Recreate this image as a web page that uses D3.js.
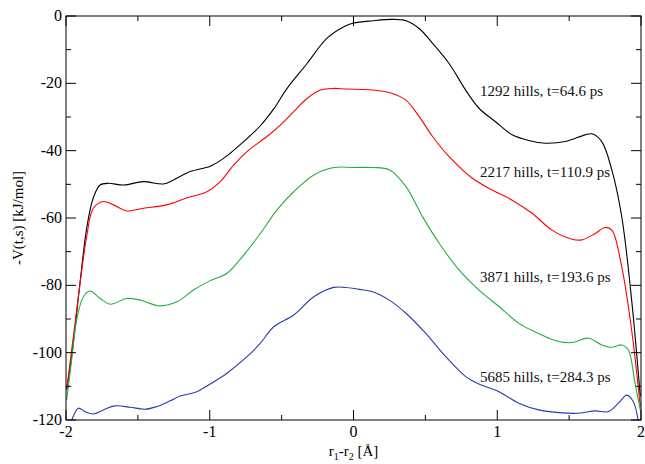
<!DOCTYPE html>
<html>
<head>
<meta charset="utf-8">
<script src="https://cdn.jsdelivr.net/npm/d3@7"></script>
<style>
	body { margin: 0; background: #fff; }
	svg text { font-family: "Liberation Serif", "Times New Roman", serif; }
</style>
</head>
<body>
<svg id="chart"></svg>
<script>
const w = 645
const h = 464
const margin = { left: 66, top: 16, right: 4, bottom: 44 }

// s values (r1-r2) and -V(t,s) for each run
const s_black = [-1.995, -1.949, -1.902, -1.856, -1.81, -1.763, -1.705, -1.6, -1.461, -1.322, -1.252, -1.136, -0.997, -0.904, -0.764, -0.648, -0.555, -0.462, -0.323, -0.184, -0.067, 0.0, 0.134, 0.27, 0.365, 0.457, 0.55, 0.665, 0.78, 0.873, 0.988, 1.104, 1.219, 1.335, 1.473, 1.612, 1.658, 1.727, 1.797, 1.866, 1.935, 1.995]
const v_black = [-111, -97, -79, -63, -54, -50.2, -49.7, -50.2, -49.2, -49.9, -48.7, -46.2, -44.6, -42.3, -37.3, -32.6, -27.6, -21.5, -14.1, -6.6, -3.2, -2.1, -1.4, -1.0, -1.4, -3.7, -8.1, -14.1, -22, -27.4, -31.4, -35.3, -37, -37.8, -37.3, -35.3, -35, -37.3, -45.7, -59.6, -84.4, -113]

const s_red = [-1.995, -1.949, -1.902, -1.856, -1.81, -1.74, -1.67, -1.577, -1.461, -1.3, -1.159, -1.02, -0.927, -0.834, -0.741, -0.602, -0.509, -0.416, -0.323, -0.23, -0.137, -0.05, 0.134, 0.27, 0.365, 0.457, 0.55, 0.665, 0.827, 0.965, 1.104, 1.242, 1.381, 1.52, 1.589, 1.681, 1.75, 1.797, 1.866, 1.935, 1.995]
const v_red = [-111, -95.3, -79.4, -65.5, -57.1, -55.1, -56.1, -57.9, -57.1, -56.1, -54, -52.2, -49.2, -44.3, -40.3, -35.8, -32.4, -28.4, -24.5, -22, -21.5, -21.7, -22, -23, -25, -29.9, -35.8, -41.8, -48.2, -51.7, -54.7, -58.6, -63.6, -66.3, -66.5, -64.6, -62.8, -63.6, -74.5, -93.3, -116]

const s_green = [-1.995, -1.96, -1.926, -1.879, -1.833, -1.763, -1.693, -1.577, -1.484, -1.345, -1.229, -1.113, -0.997, -0.88, -0.764, -0.648, -0.532, -0.416, -0.276, -0.137, 0.0, 0.134, 0.249, 0.365, 0.48, 0.596, 0.734, 0.873, 1.012, 1.15, 1.289, 1.427, 1.52, 1.635, 1.727, 1.797, 1.866, 1.912, 1.958, 1.995]
const v_green = [-114, -102, -90.3, -83.4, -81.7, -83.9, -85.6, -83.9, -84.4, -86.1, -84.9, -81.4, -78.6, -76.4, -71, -64.6, -57.6, -52.2, -47.2, -45, -45, -45, -45.7, -50.7, -59.6, -67.5, -75.4, -81.4, -86.3, -91.3, -94.3, -96.7, -97, -95.7, -97.7, -98.4, -97.7, -99.2, -109, -117]

const s_blue = [-1.99, -1.96, -1.914, -1.868, -1.81, -1.74, -1.659, -1.554, -1.45, -1.368, -1.275, -1.206, -1.09, -0.997, -0.88, -0.741, -0.648, -0.555, -0.416, -0.276, -0.137, 0.042, 0.134, 0.249, 0.365, 0.503, 0.642, 0.78, 0.873, 1.012, 1.15, 1.289, 1.427, 1.566, 1.681, 1.774, 1.843, 1.901, 1.947, 1.99]
const v_blue = [-124, -120, -116.5, -117.5, -118.2, -117, -115.8, -116.2, -116.8, -116, -114.3, -112.9, -111.6, -109.3, -106.1, -101.2, -97.2, -92.3, -88.8, -83.4, -80.6, -81.2, -81.9, -84.4, -88.3, -94.3, -101.2, -107.1, -109.3, -111.6, -115, -117, -117.8, -118, -117.3, -117.5, -115, -112.6, -114.6, -123]

const series_colors = ['#000000', '#ff0000', '#1fb040', '#2a3bb0']
const labels = ['1292 hills, t=64.6 ps', '2217 hills, t=110.9 ps', '3871 hills, t=193.6 ps', '5685 hills, t=284.3 ps']
const label_s = [0.88, 0.88, 0.88, 0.88]
const label_v = [-23.8, -47.8, -79.0, -108.7]

const x_ticks = [-2, -1, 0, 1, 2]
const x_minor = [-1.5, -0.5, 0.5, 1.5]
const y_ticks = [0, -20, -40, -60, -80, -100, -120]
const y_minor = [-10, -30, -50, -70, -90, -110]

const innerWidth = w - margin.left - margin.right
const innerHeight = h - margin.top - margin.bottom

var SVG = d3.select('#chart')
	.attr('width', w)
	.attr('height', h)

let xScale = d3.scaleLinear().domain([-2, 2]).range([margin.left, margin.left + innerWidth])
let yScale = d3.scaleLinear().domain([-120, 0]).range([margin.top + innerHeight, margin.top])

SVG.append('clipPath').attr('id', 'plot_clip')
	.append('rect')
	.attr('x', margin.left).attr('y', margin.top)
	.attr('width', innerWidth).attr('height', innerHeight)

// curves
let series = [
	{ s: s_black, v: v_black },
	{ s: s_red, v: v_red },
	{ s: s_green, v: v_green },
	{ s: s_blue, v: v_blue }
]
let line = d3.line()
	.x(d => xScale(d[0]))
	.y(d => yScale(d[1]))
	.curve(d3.curveCatmullRom.alpha(0.5))

let curves = SVG.append('g').attr('clip-path', 'url(#plot_clip)')
series.forEach((ser, i) => {
	let pts = ser.s.map((s, j) => [s, ser.v[j]])
	curves.append('path')
		.attr('d', line(pts))
		.attr('fill', 'none')
		.attr('stroke', series_colors[i])
		.attr('stroke-width', 1.1)
})

// frame + ticks (inward on all four sides)
const major_len = 10
const minor_len = 5
let axis_g = SVG.append('g').attr('stroke', '#000').attr('stroke-width', 1)

axis_g.append('rect')
	.attr('x', margin.left).attr('y', margin.top)
	.attr('width', innerWidth).attr('height', innerHeight)
	.attr('fill', 'none')

function x_tick_marks(vals, len) {
	vals.forEach(v => {
		axis_g.append('line')
			.attr('x1', xScale(v)).attr('x2', xScale(v))
			.attr('y1', yScale(-120)).attr('y2', yScale(-120) - len)
		axis_g.append('line')
			.attr('x1', xScale(v)).attr('x2', xScale(v))
			.attr('y1', yScale(0)).attr('y2', yScale(0) + len)
	})
}
function y_tick_marks(vals, len) {
	vals.forEach(v => {
		axis_g.append('line')
			.attr('x1', xScale(-2)).attr('x2', xScale(-2) + len)
			.attr('y1', yScale(v)).attr('y2', yScale(v))
		axis_g.append('line')
			.attr('x1', xScale(2)).attr('x2', xScale(2) - len)
			.attr('y1', yScale(v)).attr('y2', yScale(v))
	})
}
x_tick_marks(x_ticks, major_len)
x_tick_marks(x_minor, minor_len)
y_tick_marks(y_ticks, major_len)
y_tick_marks(y_minor, minor_len)

// tick labels
SVG.append('g').selectAll('text').data(x_ticks).enter().append('text')
	.attr('x', d => xScale(d))
	.attr('y', yScale(-120) + 17)
	.attr('text-anchor', 'middle')
	.attr('font-size', 16)
	.text(d => d)

SVG.append('g').selectAll('text').data(y_ticks).enter().append('text')
	.attr('x', xScale(-2) - 4)
	.attr('y', d => yScale(d) + 5)
	.attr('text-anchor', 'end')
	.attr('font-size', 16)
	.text(d => d)

// series annotations
SVG.append('g').selectAll('text').data(labels).enter().append('text')
	.attr('x', (_, i) => xScale(label_s[i]))
	.attr('y', (_, i) => yScale(label_v[i]))
	.attr('font-size', 15)
	.attr('fill', '#111')
	.text(d => d)

// axis titles
let xt = SVG.append('text')
	.attr('x', xScale(0))
	.attr('y', h - 8)
	.attr('text-anchor', 'middle')
	.attr('font-size', 15)
xt.append('tspan').text('r')
xt.append('tspan').attr('font-size', 10).attr('dy', 4).text('1')
xt.append('tspan').attr('dy', -4).text('-r')
xt.append('tspan').attr('font-size', 10).attr('dy', 4).text('2')
xt.append('tspan').attr('dy', -4).text(' [Å]')

SVG.append('text')
	.attr('transform', `translate(23, ${yScale(-60)}) rotate(-90)`)
	.attr('text-anchor', 'middle')
	.attr('font-size', 15)
	.text('-V(t,s) [kJ/mol]')
</script>
</body>
</html>
